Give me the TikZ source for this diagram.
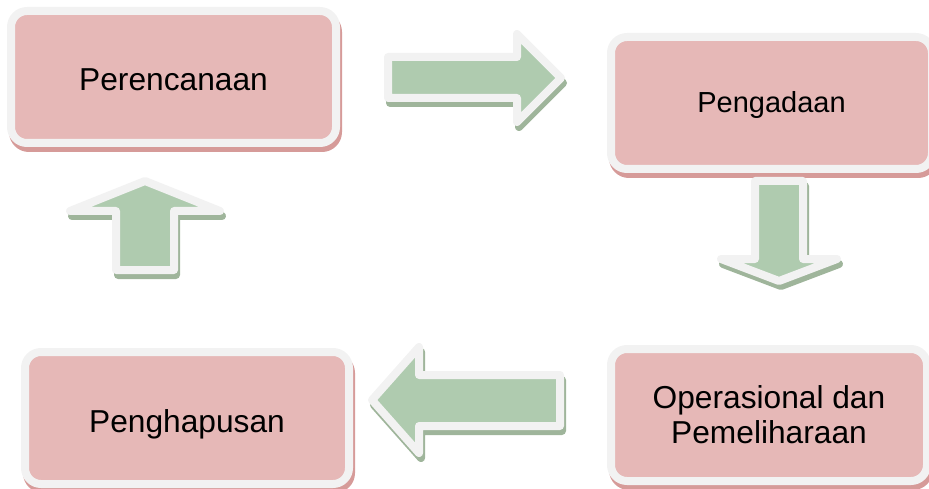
\documentclass[tikz,border=0pt]{standalone}
\usepackage{fontspec}
\setmainfont{Liberation Sans}
\definecolor{boxpink}{HTML}{E6B8B7}
\definecolor{rimgray}{HTML}{F2F2F2}
\definecolor{boxshade}{HTML}{D69B99}
\definecolor{arrowgreen}{HTML}{AFCBAF}
\definecolor{arrowshade}{HTML}{9FB59B}
\tikzset{
  dropshade/.style={preaction={draw=#1, fill=#1, line width=8pt, line join=round, transform canvas={shift={(2pt,-5pt)}}}},
  stage/.style={dropshade=boxshade, draw=rimgray, line width=8pt, fill=boxpink,
    rounded corners=16pt, minimum height=132pt, inner sep=0pt, align=center,
    font=\fontsize{31.7pt}{35pt}\selectfont},
  oneline/.style={text height=28pt, text depth=0pt},
  blockarrow/.style={dropshade=arrowshade, draw=rimgray, line width=8pt, fill=arrowgreen, line join=round}
}
\begin{document}
\begin{tikzpicture}[x=1pt,y=-1pt]
\useasboundingbox (0,0) rectangle (929,489);
\node[stage, oneline, minimum width=325pt] (perencanaan) at (173.5,77) {Perencanaan};
\node[stage, minimum width=321pt, font=\fontsize{29pt}{35pt}\selectfont, text height=24pt, text depth=4pt] (pengadaan) at (771.5,103) {Pengadaan};
\node[stage, minimum width=316pt] (operasional) at (769,415) {Operasional dan\\Pemeliharaan};
\node[stage, oneline, minimum width=324pt] (penghapusan) at (187,418) {Penghapusan};
\draw[blockarrow] (388,57) -- (517,57) -- (517,34) -- (561,78) -- (517,122) -- (517,98) -- (388,98) -- cycle;
\draw[blockarrow] (755,181) -- (803,181) -- (803,259) -- (837,259) -- (779,281) -- (721,259) -- (755,259) -- cycle;
\draw[blockarrow] (560,375) -- (419,375) -- (419,347) -- (372,400) -- (419,453) -- (419,426) -- (560,426) -- cycle;
\draw[blockarrow] (116,270) -- (116,211) -- (70,211) -- (145,181) -- (220,211) -- (174,211) -- (174,270) -- cycle;
\end{tikzpicture}
\end{document}
